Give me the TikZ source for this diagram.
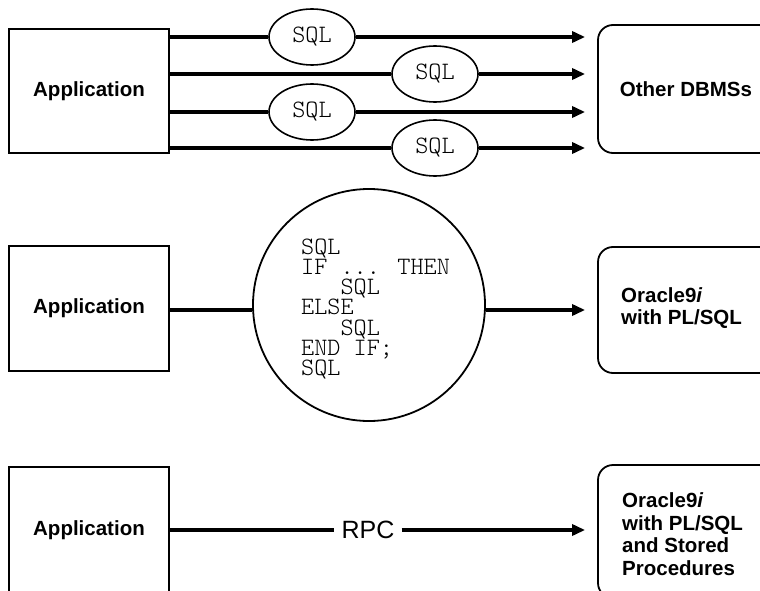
\documentclass[tikz,border=0pt]{standalone}
\usepackage{fontspec}
\setmainfont{Liberation Sans}
\setsansfont{Liberation Sans}
\newfontfamily\codefont{Latin Modern Mono Light}
\usetikzlibrary{arrows.meta,shapes.geometric}
\begin{document}
\begin{tikzpicture}[x=1pt,y=-1pt,
  appbox/.style={draw, line width=1.8pt, minimum width=160, inner sep=0,
    font=\fontsize{20.5}{24}\selectfont\bfseries},
  dbbox/.style={draw, line width=1.8pt, rounded corners=15pt, minimum width=176, inner sep=0,
    font=\fontsize{20.5}{24}\selectfont\bfseries},
  dbtext/.style={anchor=west, align=left, inner sep=0,
    font=\fontsize{20.5}{22.5}\selectfont\bfseries},
  sqlell/.style={draw, ellipse, line width=1.6pt, fill=white, minimum width=86,
    minimum height=56, inner sep=0, font=\fontsize{25}{20}\selectfont\codefont},
  codetext/.style={anchor=west, align=left, inner sep=0,
    font=\fontsize{25}{20.3}\selectfont\codefont},
  rpclabel/.style={inner xsep=7pt, inner ysep=0, font=\fontsize{25}{30}\selectfont},
  conn/.style={line width=3.2pt},
  arr/.style={line width=3.2pt, -{Triangle[length=13pt,width=11pt]}}
]
\useasboundingbox (0,0) rectangle (760,591);
\begin{scope}
\clip (0,0) rectangle (760,591);

% ---- top row ----
\node[appbox, minimum height=124] (A1) at (89,91) {Application};
\node[dbbox, minimum height=128] (O1) at (686,89) {Other DBMSs};
\node[sqlell] (S1) at (312,37) {SQL};
\node[sqlell] (S2) at (435,74) {SQL};
\node[sqlell] (S3) at (312,112) {SQL};
\node[sqlell] (S4) at (435,148) {SQL};
\foreach \s in {S1,S2,S3,S4}{
  \draw[conn] (A1.east |- \s) -- (\s.west);
  \draw[arr] (\s.east) -- ([xshift=-12pt]O1.west |- \s);
}

% ---- middle row ----
\node[appbox, minimum height=125] (A2) at (89,308.5) {Application};
\node[dbbox, minimum height=126] (O2) at (686,310) {};
\node[dbtext] (O2t) at (621,308) {Oracle9\textit{i}\\with PL/SQL};
\node[draw, circle, line width=1.8pt, minimum size=232, inner sep=0] (C) at (369,305) {};
\node[codetext] (Ct) at (301,309) {SQL\\IF ... THEN\\\ \ \ SQL\\ELSE\\\ \ \ SQL\\END IF;\\SQL};
\coordinate (m) at (0,310);
\draw[conn] (A2.east |- m) -- (C.west |- m);
\draw[arr] (C.east |- m) -- ([xshift=-12pt]O2.west |- m);

% ---- bottom row ----
\node[appbox, minimum height=126] (A3) at (89,530) {Application};
\node[dbbox, minimum height=133] (O3) at (686,531.5) {};
\node[dbtext] (O3t) at (622,534) {Oracle9\textit{i}\\with PL/SQL\\and Stored\\Procedures};
\node[rpclabel] (R) at (368,530) {RPC};
\draw[conn] (A3.east |- R) -- (R.west);
\draw[arr] (R.east) -- ([xshift=-12pt]O3.west |- R);
\end{scope}
\end{tikzpicture}
\end{document}
